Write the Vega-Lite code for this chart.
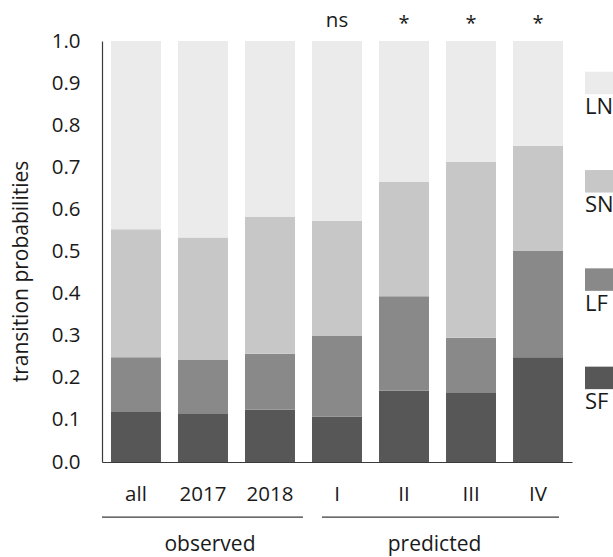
{
  "$schema": "https://vega.github.io/schema/vega-lite/v6.json",
  "width": 470,
  "height": 421,
  "autosize": "none",
  "padding": {"left": 102, "top": 41, "right": 41, "bottom": 95},
  "background": "white",
  "config": {
    "font": "Open Sans",
    "view": {"stroke": null},
    "text": {"font": "Open Sans", "color": "#1a1a1a"}
  },
  "layer": [
    {
      "data": {
        "values": [
          {"cat": "all", "state": "SF", "p": 0.119},
          {"cat": "all", "state": "LF", "p": 0.130},
          {"cat": "all", "state": "SN", "p": 0.304},
          {"cat": "all", "state": "LN", "p": 0.447},
          {"cat": "2017", "state": "SF", "p": 0.114},
          {"cat": "2017", "state": "LF", "p": 0.128},
          {"cat": "2017", "state": "SN", "p": 0.291},
          {"cat": "2017", "state": "LN", "p": 0.467},
          {"cat": "2018", "state": "SF", "p": 0.124},
          {"cat": "2018", "state": "LF", "p": 0.133},
          {"cat": "2018", "state": "SN", "p": 0.325},
          {"cat": "2018", "state": "LN", "p": 0.418},
          {"cat": "I", "state": "SF", "p": 0.108},
          {"cat": "I", "state": "LF", "p": 0.191},
          {"cat": "I", "state": "SN", "p": 0.274},
          {"cat": "I", "state": "LN", "p": 0.427},
          {"cat": "II", "state": "SF", "p": 0.169},
          {"cat": "II", "state": "LF", "p": 0.225},
          {"cat": "II", "state": "SN", "p": 0.271},
          {"cat": "II", "state": "LN", "p": 0.335},
          {"cat": "III", "state": "SF", "p": 0.164},
          {"cat": "III", "state": "LF", "p": 0.131},
          {"cat": "III", "state": "SN", "p": 0.418},
          {"cat": "III", "state": "LN", "p": 0.287},
          {"cat": "IV", "state": "SF", "p": 0.249},
          {"cat": "IV", "state": "LF", "p": 0.252},
          {"cat": "IV", "state": "SN", "p": 0.250},
          {"cat": "IV", "state": "LN", "p": 0.249}
        ]
      },
      "transform": [
        {"calculate": "indexof(['SF','LF','SN','LN'], datum.state)", "as": "ord"}
      ],
      "mark": {"type": "bar"},
      "encoding": {
        "x": {
          "field": "cat",
          "type": "nominal",
          "scale": {"domain": ["all", "2017", "2018", "I", "II", "III", "IV"], "paddingInner": 0.254, "paddingOuter": 0.134},
          "axis": {
            "title": null,
            "labelAngle": 0,
            "ticks": false,
            "tickSize": 0,
            "labelPadding": 22,
            "labelFontSize": 20.5,
            "labelColor": "#1a1a1a",
            "labelFont": "Open Sans",
            "domainColor": "#3a3a3a",
            "domainWidth": 1.2
          }
        },
        "y": {
          "field": "p",
          "type": "quantitative",
          "stack": "zero",
          "scale": {"domain": [0, 1], "nice": false},
          "axis": {
            "title": "transition probabilities",
            "titleFontSize": 21,
            "titleFontWeight": "normal",
            "titleFont": "Open Sans",
            "titleColor": "#1a1a1a",
            "titleAngle": -90,
            "titleAlign": "center",
            "titleBaseline": "middle",
            "titleX": -81,
            "titleY": 230,
            "values": [0, 0.1, 0.2, 0.3, 0.4, 0.5, 0.6, 0.7, 0.8, 0.9, 1.0],
            "format": ".1f",
            "grid": false,
            "ticks": false,
            "tickSize": 0,
            "labelPadding": 22,
            "labelFontSize": 20.5,
            "labelColor": "#1a1a1a",
            "labelFont": "Open Sans",
            "domainColor": "#3a3a3a",
            "domainWidth": 1.2
          }
        },
        "color": {
          "field": "state",
          "type": "nominal",
          "scale": {"domain": ["LN", "SN", "LF", "SF"], "range": ["#ebebeb", "#c6c7c6", "#898989", "#575757"]},
          "legend": {
            "orient": "none",
            "legendX": 483,
            "legendY": 27,
            "title": null,
            "padding": 0,
            "symbolType": "M-1,-0.75H1V0.75H-1Z",
            "symbolSize": 900,
            "symbolStrokeWidth": 0,
            "symbolOpacity": 1,
            "labelFontSize": 22,
            "labelFont": "Open Sans",
            "labelColor": "#1a1a1a",
            "labelBaseline": "middle",
            "labelExpr": "['', '', datum.label]",
            "labelOffset": -30,
            "rowPadding": 24.3
          }
        },
        "order": {"field": "ord", "type": "quantitative"}
      }
    },
    {
      "data": {"values": [{"from": "all", "to": "2018"}]},
      "mark": {"type": "rule", "color": "#3a3a3a", "strokeWidth": 1.2},
      "encoding": {
        "x": {"field": "from", "type": "nominal", "bandPosition": -0.18},
        "x2": {"field": "to", "bandPosition": 1.16},
        "y": {"datum": -0.131}
      }
    },
    {
      "data": {"values": [{"from": "I", "to": "IV"}]},
      "mark": {"type": "rule", "color": "#3a3a3a", "strokeWidth": 1.2},
      "encoding": {
        "x": {"field": "from", "type": "nominal", "bandPosition": 0.2},
        "x2": {"field": "to", "bandPosition": 0.92},
        "y": {"datum": -0.131}
      }
    },
    {
      "data": {"values": [{"at": "2017", "group": "observed"}]},
      "mark": {"type": "text", "fontSize": 21, "baseline": "alphabetic", "align": "center"},
      "encoding": {
        "x": {"field": "at", "type": "nominal", "bandPosition": 0.64},
        "y": {"datum": -0.212},
        "text": {"field": "group"}
      }
    },
    {
      "data": {"values": [{"at": "II", "group": "predicted"}]},
      "mark": {"type": "text", "fontSize": 21, "baseline": "alphabetic", "align": "center"},
      "encoding": {
        "x": {"field": "at", "type": "nominal", "bandPosition": 1.11},
        "y": {"datum": -0.212},
        "text": {"field": "group"}
      }
    },
    {
      "data": {"values": [{"cat": "I", "sig": "ns"}]},
      "mark": {"type": "text", "fontSize": 20.5, "baseline": "alphabetic", "align": "center"},
      "encoding": {
        "x": {"field": "cat", "type": "nominal", "bandPosition": 0.5},
        "y": {"datum": 1.033},
        "text": {"field": "sig"}
      }
    },
    {
      "data": {"values": [{"cat": "II", "sig": "*"}, {"cat": "III", "sig": "*"}, {"cat": "IV", "sig": "*"}]},
      "mark": {"type": "text", "fontSize": 20, "baseline": "alphabetic", "align": "center"},
      "encoding": {
        "x": {"field": "cat", "type": "nominal", "bandPosition": 0.5},
        "y": {"datum": 1.025},
        "text": {"field": "sig"}
      }
    }
  ]
}
